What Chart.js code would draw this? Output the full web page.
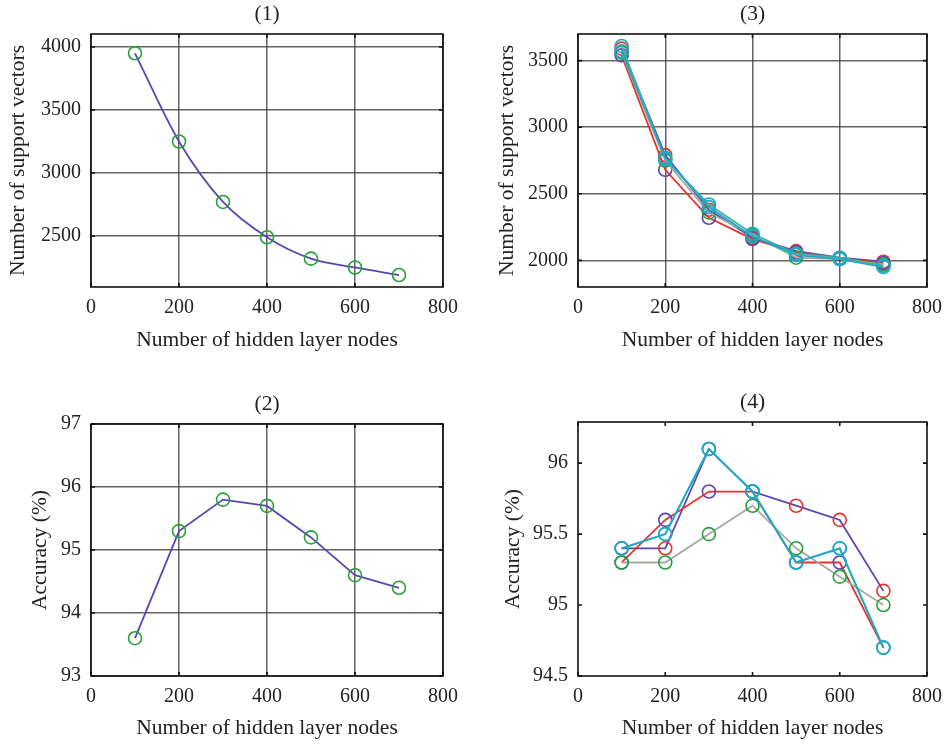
<!DOCTYPE html>
<html>
<head>
<meta charset="utf-8">
<script src="https://cdn.jsdelivr.net/npm/chart.js@4.4.0/dist/chart.umd.min.js"></script>
<style>
  body { margin: 0; background: #fff; }
  #wrap { position: relative; width: 951px; height: 744px; }
  canvas { position: absolute; }
</style>
</head>
<body>
<div id="wrap">
  <canvas id="c1" width="475" height="372" style="left:0;top:0"></canvas>
  <canvas id="c2" width="475" height="372" style="left:0;top:372px"></canvas>
  <canvas id="c3" width="475" height="372" style="left:476px;top:0"></canvas>
  <canvas id="c4" width="475" height="372" style="left:476px;top:372px"></canvas>
</div>
<script>
// x values and ticks shared by all four panels
const nodes = [100, 200, 300, 400, 500, 600, 700];
const xTicks = [0, 200, 400, 600, 800];

// (1) support vectors, single run
const supportVectors = [3950, 3250, 2770, 2490, 2320, 2250, 2190];
const svTicks = [2500, 3000, 3500, 4000];

// (2) accuracy, single run
const accuracy = [93.6, 95.3, 95.8, 95.7, 95.2, 94.6, 94.4];
const accTicks = [93, 94, 95, 96, 97];

// (3) support vectors, five runs
const svRunA = [3590, 2790, 2380, 2170, 2070, 2020, 1990];
const svRunB = [3540, 2680, 2320, 2160, 2060, 2015, 1980];
const svRunC = [3610, 2760, 2420, 2200, 2050, 2020, 1960];
const svRunD = [3560, 2750, 2360, 2190, 2020, 2010, 1970];
const svRunE = [3570, 2770, 2400, 2180, 2040, 2010, 1950];
const svRunTicks = [2000, 2500, 3000, 3500];

// (4) accuracy, five runs
const accRunA = [95.4, 95.4, 96.1, 95.8, 95.7, 95.6, 95.1];
const accRunB = [95.3, 95.6, 95.8, 95.8, 95.3, 95.3, 94.7];
const accRunC = [95.4, 95.5, 96.1, 95.8, 95.3, 95.4, 94.7];
const accRunD = [95.3, 95.3, 95.5, 95.7, 95.4, 95.2, 95.0];
const accRunE = [95.4, 95.5, 96.1, 95.8, 95.3, 95.4, 94.7];
const accRunTicks = [94.5, 95, 95.5, 96];

const SERIF = '"Liberation Serif", "DejaVu Serif", serif';
const TICK_SIZE = 20;
const TITLE_SIZE = 21.5;
const TEXT = '#222';

// line colour / marker colour per run, and stacking (1 = on top)
const runLine = ['#5b45b0', '#e8312c', '#43b59f', '#a8a8a0', '#1fa9c9'];
const runMarker = ['#e8312c', '#5b45b0', '#1fa9c9', '#23a03a', '#1fa9c9'];
const runOrder = [5, 4, 2, 3, 1];

function toPoints(values) {
  return nodes.map((x, i) => ({ x: x, y: values[i] }));
}

function runDatasets(runs) {
  return runs.map((vals, i) => ({
    data: toPoints(vals),
    order: runOrder[i],
    borderColor: runLine[i],
    borderWidth: 1.8,
    pointBorderColor: runMarker[i],
    pointBackgroundColor: 'rgba(0,0,0,0)',
    pointRadius: 6.5,
    pointBorderWidth: 1.6,
    tension: 0
  }));
}

// box, inward tick marks and the "(n)" title
const framePlugin = {
  id: 'frame',
  afterDraw(chart, args, opts) {
    const { ctx, chartArea: a, scales } = chart;
    ctx.save();
    ctx.strokeStyle = '#111';
    ctx.lineWidth = 1.6;
    ctx.strokeRect(a.left, a.top, a.right - a.left, a.bottom - a.top);
    ctx.beginPath();
    scales.x.ticks.forEach(t => {
      const px = scales.x.getPixelForValue(t.value);
      ctx.moveTo(px, a.bottom); ctx.lineTo(px, a.bottom - 4);
      ctx.moveTo(px, a.top); ctx.lineTo(px, a.top + 4);
    });
    scales.y.ticks.forEach(t => {
      const py = scales.y.getPixelForValue(t.value);
      ctx.moveTo(a.left, py); ctx.lineTo(a.left + 4, py);
      ctx.moveTo(a.right, py); ctx.lineTo(a.right - 4, py);
    });
    ctx.stroke();
    ctx.fillStyle = TEXT;
    ctx.font = TITLE_SIZE + 'px ' + SERIF;
    ctx.textAlign = 'center';
    ctx.textBaseline = 'middle';
    ctx.fillText(opts.text, (a.left + a.right) / 2, a.top - 20);
    ctx.restore();
  }
};

function makeChart(id, p) {
  const canvas = document.getElementById(id);
  const W = canvas.width, H = canvas.height;
  const gridOpts = {
    display: p.grid,
    drawTicks: false,
    color: 'rgba(60,60,60,0.8)',
    lineWidth: 1.5
  };
  return new Chart(canvas.getContext('2d'), {
    type: 'line',
    data: { datasets: p.datasets },
    plugins: [framePlugin],
    options: {
      responsive: false,
      animation: false,
      events: [],
      layout: { padding: { top: p.area.top, right: W - p.area.right, left: 0, bottom: 0 } },
      plugins: {
        legend: { display: false },
        tooltip: { enabled: false },
        frame: { text: p.title }
      },
      scales: {
        x: {
          type: 'linear',
          min: 0,
          max: 800,
          grid: gridOpts,
          border: { display: false },
          afterBuildTicks: s => { s.ticks = xTicks.map(v => ({ value: v })); },
          afterFit: s => { s.height = H - p.area.bottom; },
          ticks: {
            padding: 9, color: TEXT, font: { family: SERIF, size: TICK_SIZE },
            callback: v => String(v)
          },
          title: {
            display: true,
            text: 'Number of hidden layer nodes',
            color: TEXT,
            font: { family: SERIF, size: TITLE_SIZE },
            padding: { top: 0, bottom: p.xTitlePad }
          }
        },
        y: {
          min: p.yMin,
          max: p.yMax,
          grid: gridOpts,
          border: { display: false },
          afterBuildTicks: s => { s.ticks = p.yTicks.map(v => ({ value: v })); },
          afterFit: s => { s.width = p.area.left; },
          ticks: {
            padding: 10, color: TEXT, font: { family: SERIF, size: TICK_SIZE },
            callback: v => String(v)
          },
          title: {
            display: true,
            text: p.yTitle,
            color: TEXT,
            font: { family: SERIF, size: TITLE_SIZE },
            padding: { top: p.yTitlePad, bottom: 0 }
          }
        }
      }
    }
  });
}

makeChart('c1', {
  title: '(1)',
  area: { left: 91, top: 34, right: 443, bottom: 287 },
  xTitlePad: 19, yTitlePad: 5,
  yMin: 2095, yMax: 4103, yTicks: svTicks,
  yTitle: 'Number of support vectors',
  grid: true,
  datasets: [{
    data: toPoints(supportVectors),
    borderColor: '#5b45b0',
    borderWidth: 1.8,
    pointBorderColor: '#23a03a',
    pointBackgroundColor: 'rgba(0,0,0,0)',
    pointRadius: 6.5,
    pointBorderWidth: 1.6,
    cubicInterpolationMode: 'monotone'
  }]
});

makeChart('c2', {
  title: '(2)',
  area: { left: 91, top: 52, right: 443, bottom: 304 },
  xTitlePad: 3, yTitlePad: 27,
  yMin: 93, yMax: 97, yTicks: accTicks,
  yTitle: 'Accuracy (%)',
  grid: true,
  datasets: [{
    data: toPoints(accuracy),
    borderColor: '#5b45b0',
    borderWidth: 1.8,
    pointBorderColor: '#23a03a',
    pointBackgroundColor: 'rgba(0,0,0,0)',
    pointRadius: 6.5,
    pointBorderWidth: 1.6,
    tension: 0
  }]
});

makeChart('c3', {
  title: '(3)',
  area: { left: 102, top: 34, right: 457, bottom: 287 },
  xTitlePad: 19, yTitlePad: 18,
  yMin: 1800, yMax: 3700, yTicks: svRunTicks,
  yTitle: 'Number of support vectors',
  grid: true,
  datasets: runDatasets([svRunA, svRunB, svRunC, svRunD, svRunE])
});

makeChart('c4', {
  title: '(4)',
  area: { left: 102, top: 50, right: 457, bottom: 304 },
  xTitlePad: 3, yTitlePad: 24,
  yMin: 94.5, yMax: 96.29, yTicks: accRunTicks,
  yTitle: 'Accuracy (%)',
  grid: false,
  datasets: runDatasets([accRunA, accRunB, accRunC, accRunD, accRunE])
});
</script>
</body>
</html>
